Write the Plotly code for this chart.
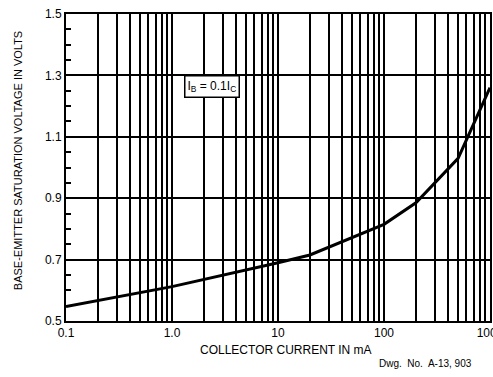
import plotly.graph_objects as go

# Data
current_ma = [0.1, 1.0, 10, 20, 100, 200, 500, 1000]
vbe_sat = [0.547, 0.612, 0.690, 0.715, 0.815, 0.885, 1.03, 1.26]

x_decades = [0.1, 1, 10, 100, 1000]
x_tick_labels = ["0.1", "1.0", "10", "100", "1000"]
y_ticks = [0.5, 0.7, 0.9, 1.1, 1.3, 1.5]
y_tick_labels = ["0.5", "0.7", "0.9", "1.1", "1.3", "1.5"]
y_minor_ticks = [0.55, 0.6, 0.65, 0.75, 0.8, 0.85, 0.95, 1.0, 1.05,
                 1.15, 1.2, 1.25, 1.35, 1.4, 1.45]

# full log grid: 1..9 multiples of each decade
x_grid_vals = []
x_grid_text = []
for i, d in enumerate(x_decades[:-1]):
    for m in range(1, 10):
        x_grid_vals.append(round(d * m, 6))
        x_grid_text.append(x_tick_labels[i] if m == 1 else "")
x_grid_vals.append(x_decades[-1])
x_grid_text.append(x_tick_labels[-1])

FONT = "Liberation Sans Narrow, Liberation Sans, Arial, sans-serif"

fig = go.Figure()
fig.add_trace(go.Scatter(
    x=current_ma, y=vbe_sat, mode="lines",
    line=dict(color="black", width=3),
    showlegend=False, hoverinfo="skip",
))

fig.update_layout(
    width=493, height=377,
    margin=dict(l=66, r=3, t=14, b=56, autoexpand=False),
    paper_bgcolor="white", plot_bgcolor="white",
    font=dict(family=FONT, color="black", size=12),
    xaxis=dict(
        type="log", range=[-1, 3], automargin=False,
        tickmode="array", tickvals=x_grid_vals, ticktext=x_grid_text,
        ticks="", showgrid=True, gridcolor="black", gridwidth=1.6,
        showline=True, linecolor="black", linewidth=2, mirror=True,
        tickfont=dict(family=FONT, size=12, color="black"),
        ticklabeloverflow="allow",
        zeroline=False,
    ),
    yaxis=dict(
        range=[0.5, 1.5], automargin=False,
        tickmode="array", tickvals=y_ticks, ticktext=y_tick_labels,
        ticks="inside", ticklen=5, tickwidth=1.5, tickcolor="black",
        showgrid=True, gridcolor="black", gridwidth=1.5,
        showline=True, linecolor="black", linewidth=2, mirror=True,
        tickfont=dict(family=FONT, size=12, color="black"),
        zeroline=False,
        minor=dict(tickmode="array", tickvals=y_minor_ticks, ticks="inside",
                   ticklen=5, tickcolor="black", tickwidth=1.5, showgrid=False),
    ),
    annotations=[
        dict(text="I<sub>B</sub> = 0.1I<sub>C</sub>", xref="paper", yref="paper",
             x=0.344, y=0.764, xanchor="center", yanchor="middle",
             showarrow=False, bgcolor="white",
             bordercolor="black", borderwidth=1.5, borderpad=2,
             font=dict(family=FONT, size=12, color="black")),
        dict(text="COLLECTOR CURRENT IN mA", xref="paper", yref="paper",
             x=0.519, y=-0.094, xanchor="center", yanchor="middle",
             showarrow=False,
             font=dict(family=FONT, size=12, color="black")),
        dict(text="BASE-EMITTER SATURATION VOLTAGE IN VOLTS", xref="paper", yref="paper",
             x=-0.113, y=0.521, xanchor="center", yanchor="middle",
             showarrow=False, textangle=-90,
             font=dict(family=FONT, size=11, color="black")),
        dict(text="Dwg.  No.  A-13, 903", xref="paper", yref="paper",
             x=0.849, y=-0.137, xanchor="center", yanchor="middle",
             showarrow=False,
             font=dict(family=FONT, size=10, color="black")),
    ],
)

fig.write_html(
    "out.html",
    config={"displayModeBar": False},
    post_script=(
        "document.documentElement.style.overflow='hidden';"
        "document.body.style.margin='0';"
        "document.body.style.overflow='hidden';"
    ),
)
